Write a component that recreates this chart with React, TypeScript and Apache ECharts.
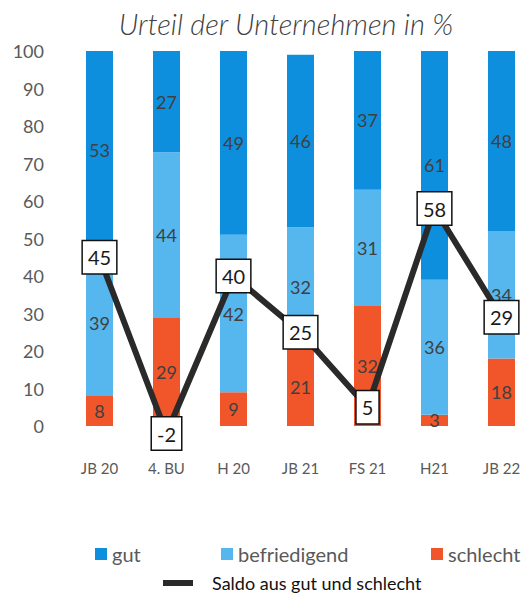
import React, { useEffect, useRef } from "react";
import * as echarts from "echarts";

const categories = ["JB 20", "4. BU", "H 20", "JB 21", "FS 21", "H21", "JB 22"];
const schlecht = [8, 29, 9, 21, 32, 3, 18];
const befriedigend = [39, 44, 42, 32, 31, 36, 34];
const gut = [53, 27, 49, 46, 37, 61, 48];
const saldo = [45, -2, 40, 25, 5, 58, 29];
const yTicks = [0, 10, 20, 30, 40, 50, 60, 70, 80, 90, 100];

const FONT = "Lato, 'Open Sans', sans-serif";
const C_GUT = "#0e8fde";
const C_BEF = "#56b7ef";
const C_SCH = "#f1552a";

export default function App() {
  const ref = useRef<HTMLDivElement>(null);
  useEffect(() => {
    if (!ref.current) return;
    const chart = echarts.init(ref.current, null, { renderer: "svg" });
    const barLabel = {
      show: true,
      position: "inside",
      color: "#404040",
      fontSize: 18,
      fontFamily: FONT,
    };
    chart.setOption({
      animation: false,
      backgroundColor: "#ffffff",
      title: {
        text: "Urteil der Unternehmen in %",
        left: 281,
        textAlign: "center",
        top: 4,
        textStyle: {
          fontFamily: FONT,
          fontStyle: "italic",
          fontWeight: 300,
          fontSize: 29,
          color: "#3f3f3f",
        },
      },
      grid: { left: 66, top: 51, width: 469, height: 375 },
      xAxis: {
        type: "category",
        data: categories,
        axisLine: { show: false },
        axisTick: { show: false },
        axisLabel: { color: "#595959", fontSize: 15, fontFamily: FONT, margin: 34 },
      },
      yAxis: {
        type: "value",
        min: yTicks[0],
        max: yTicks[yTicks.length - 1],
        interval: 10,
        splitLine: { show: false },
        axisLine: { show: false },
        axisTick: { show: false },
        axisLabel: { color: "#595959", fontSize: 18, fontFamily: FONT, margin: 22 },
      },
      legend: [
        {
          data: ["gut"],
          left: 90,
          top: 539,
          icon: "rect",
          itemWidth: 12,
          itemHeight: 12,
          itemGap: 0,
          textStyle: { color: "#595959", fontSize: 20, fontFamily: FONT },
        },
        {
          data: ["befriedigend"],
          left: 216,
          top: 539,
          icon: "rect",
          itemWidth: 12,
          itemHeight: 12,
          textStyle: { color: "#595959", fontSize: 20, fontFamily: FONT },
        },
        {
          data: ["schlecht"],
          left: 426,
          top: 539,
          icon: "rect",
          itemWidth: 12,
          itemHeight: 12,
          textStyle: { color: "#595959", fontSize: 20, fontFamily: FONT },
        },
        {
          data: ["Saldo aus gut und schlecht"],
          left: 158,
          top: 569,
          icon: "rect",
          itemWidth: 30,
          itemHeight: 6,
          textStyle: {
            color: "#111111",
            fontSize: 18,
            fontFamily: FONT,
            padding: [0, 0, 0, 14],
          },
        },
      ],
      series: [
        {
          name: "schlecht",
          type: "bar",
          stack: "s",
          data: schlecht,
          barWidth: 27,
          itemStyle: { color: C_SCH },
          label: barLabel,
        },
        {
          name: "befriedigend",
          type: "bar",
          stack: "s",
          data: befriedigend,
          barWidth: 27,
          itemStyle: { color: C_BEF },
          label: barLabel,
        },
        {
          name: "gut",
          type: "bar",
          stack: "s",
          data: gut,
          barWidth: 27,
          itemStyle: { color: C_GUT },
          label: barLabel,
        },
        {
          name: "Saldo aus gut und schlecht",
          type: "line",
          data: saldo,
          z: 5,
          clip: false,
          symbol: "rect",
          symbolSize: 1,
          lineStyle: { color: "#2a2a2a", width: 6 },
          itemStyle: { color: "#2a2a2a" },
          label: {
            show: true,
            position: "inside",
            color: "#1a1a1a",
            fontSize: 20,
            fontFamily: FONT,
            backgroundColor: "#ffffff",
            borderColor: "#111111",
            borderWidth: 1.5,
            padding: [6, 5, 6, 5],
            lineHeight: 20,
          },
        },
      ],
    });
    return () => chart.dispose();
  }, []);
  return (
    <div style={{ position: "absolute", left: 0, top: 0, width: 526, height: 594, overflow: "hidden", background: "#fff" }}>
      <div ref={ref} style={{ width: 540, height: 594 }} />
    </div>
  );
}
